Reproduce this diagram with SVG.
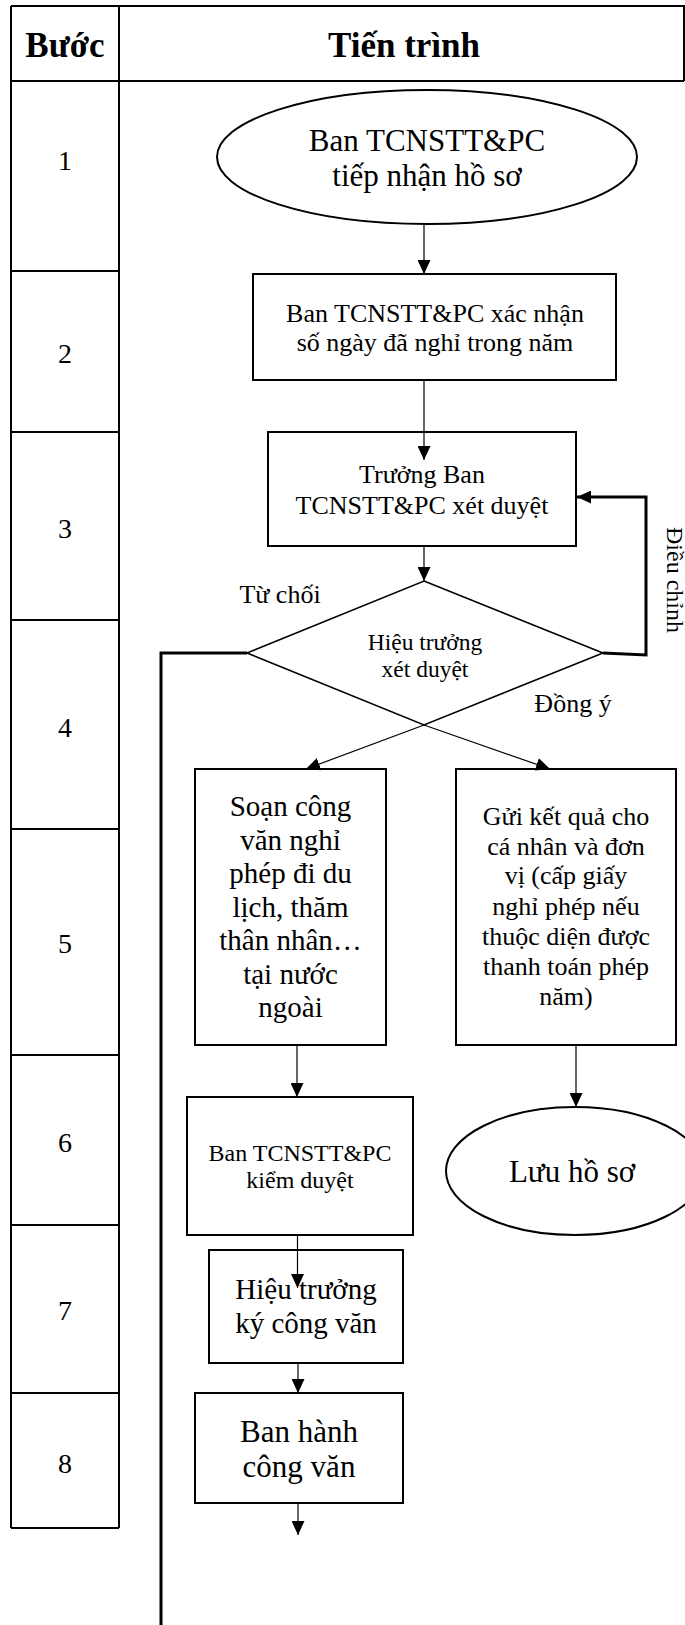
<svg xmlns="http://www.w3.org/2000/svg" width="685" height="1625" viewBox="0 0 685 1625">
<defs>
<marker id="ah" viewBox="0 0 14 13" refX="14" refY="6.5" markerWidth="14" markerHeight="13" markerUnits="userSpaceOnUse" orient="auto"><path d="M0,0 L14,6.5 L0,13 z" fill="#000"/></marker>
<style>
.t{font-family:"Liberation Serif","Times New Roman",serif;fill:#000;text-anchor:middle}
.b{font-weight:bold}
.grid{stroke:#000;stroke-width:2;fill:none}
.box{fill:#fff;stroke:#000;stroke-width:2}
.dia{fill:#fff;stroke:#000;stroke-width:1.6}
.c{stroke:#000;stroke-width:1.2;fill:none}
.thick{stroke:#000;stroke-width:3;fill:none}
</style>
</defs>
<rect width="685" height="1625" fill="#fff"/>
<g id="table">
<path class="grid" d="M11,6 H684 V81 M11,81 H684 M11,6 V1528 M119,6 V1528 M11,271 H119 M11,432 H119 M11,620 H119 M11,829 H119 M11,1055 H119 M11,1225 H119 M11,1393 H119 M11,1528 H119"/>
<text class="t b" font-size="35" x="65" y="57">Bước</text>
<text class="t b" font-size="35" x="404" y="57">Tiến trình</text>
<g class="t" font-size="28">
<text x="65" y="170">1</text>
<text x="65" y="363">2</text>
<text x="65" y="538">3</text>
<text x="65" y="737">4</text>
<text x="65" y="953">5</text>
<text x="65" y="1152">6</text>
<text x="65" y="1320">7</text>
<text x="65" y="1473">8</text>
</g>
</g>
<g id="n1"><ellipse class="box" cx="427" cy="157" rx="210" ry="67"/><text class="t" font-size="31"><tspan x="427" y="151">Ban TCNSTT&amp;PC</tspan><tspan x="427" y="186">tiếp nhận hồ sơ</tspan></text></g>
<g id="n2"><rect class="box" x="253" y="274" width="363" height="106"/><text class="t" font-size="26"><tspan x="435" y="322">Ban TCNSTT&amp;PC xác nhận</tspan><tspan x="435" y="351">số ngày đã nghỉ trong năm</tspan></text></g>
<g id="n3"><rect class="box" x="268" y="432" width="308" height="114"/><text class="t" font-size="26"><tspan x="422" y="483">Trưởng Ban</tspan><tspan x="422" y="514">TCNSTT&amp;PC xét duyệt</tspan></text></g>
<g id="n4"><polygon class="dia" points="424,581 603,653 424,725 247,653"/><text class="t" font-size="23.5"><tspan x="425" y="650">Hiệu trưởng</tspan><tspan x="425" y="677">xét duyệt</tspan></text></g>
<g id="n5a"><rect class="box" x="195" y="769" width="191" height="276"/><text class="t" font-size="29"><tspan x="290.5" y="816">Soạn công</tspan><tspan x="290.5" y="850">văn nghỉ</tspan><tspan x="290.5" y="883">phép đi du</tspan><tspan x="290.5" y="917">lịch, thăm</tspan><tspan x="290.5" y="950">thân nhân…</tspan><tspan x="290.5" y="984">tại nước</tspan><tspan x="290.5" y="1017">ngoài</tspan></text></g>
<g id="n5b"><rect class="box" x="456" y="769" width="220" height="276"/><text class="t" font-size="26"><tspan x="566" y="825">Gửi kết quả cho</tspan><tspan x="566" y="855">cá nhân và đơn</tspan><tspan x="566" y="884">vị (cấp giấy</tspan><tspan x="566" y="915">nghỉ phép nếu</tspan><tspan x="566" y="945">thuộc diện được</tspan><tspan x="566" y="975">thanh toán phép</tspan><tspan x="566" y="1005">năm)</tspan></text></g>
<g id="n6"><rect class="box" x="187" y="1097" width="226" height="138"/><text class="t" font-size="24"><tspan x="300" y="1161">Ban TCNSTT&amp;PC</tspan><tspan x="300" y="1188">kiểm duyệt</tspan></text></g>
<g id="n7"><rect class="box" x="209" y="1250" width="194" height="113"/><text class="t" font-size="29"><tspan x="306" y="1299">Hiệu trưởng</tspan><tspan x="306" y="1333">ký công văn</tspan></text></g>
<g id="n8"><rect class="box" x="195" y="1393" width="208" height="110"/><text class="t" font-size="31"><tspan x="299" y="1442">Ban hành</tspan><tspan x="299" y="1477">công văn</tspan></text></g>
<g id="n9"><ellipse class="box" cx="575" cy="1171" rx="129" ry="64"/><text class="t" font-size="31" x="572" y="1182">Lưu hồ sơ</text></g>
<g id="connectors">
<path class="c" marker-end="url(#ah)" d="M424,224 V274"/>
<path class="c" marker-end="url(#ah)" d="M424,380 V460"/>
<path class="c" marker-end="url(#ah)" d="M424,546 V581"/>
<path class="c" marker-end="url(#ah)" d="M424,725 L306,769"/>
<path class="c" marker-end="url(#ah)" d="M424,725 L550,769"/>
<path class="c" marker-end="url(#ah)" d="M297,1045 V1097"/>
<path class="c" marker-end="url(#ah)" d="M576,1045 V1107"/>
<path class="c" marker-end="url(#ah)" d="M297.5,1235 V1288"/>
<path class="c" marker-end="url(#ah)" d="M298,1363 V1393"/>
<path class="c" marker-end="url(#ah)" d="M298,1503 V1535"/>
<path class="thick" marker-end="url(#ah)" d="M603,653 L646,655 V497 H577"/>
<path class="thick" d="M247,653 H161 V1625"/>
<text class="t" font-size="26" x="280" y="603">Từ chối</text>
<text class="t" font-size="26" x="573" y="712">Đồng ý</text>
<text class="t" font-size="24" transform="translate(667,580) rotate(90)" x="0" y="0">Điều chỉnh</text>
</g>
</svg>
